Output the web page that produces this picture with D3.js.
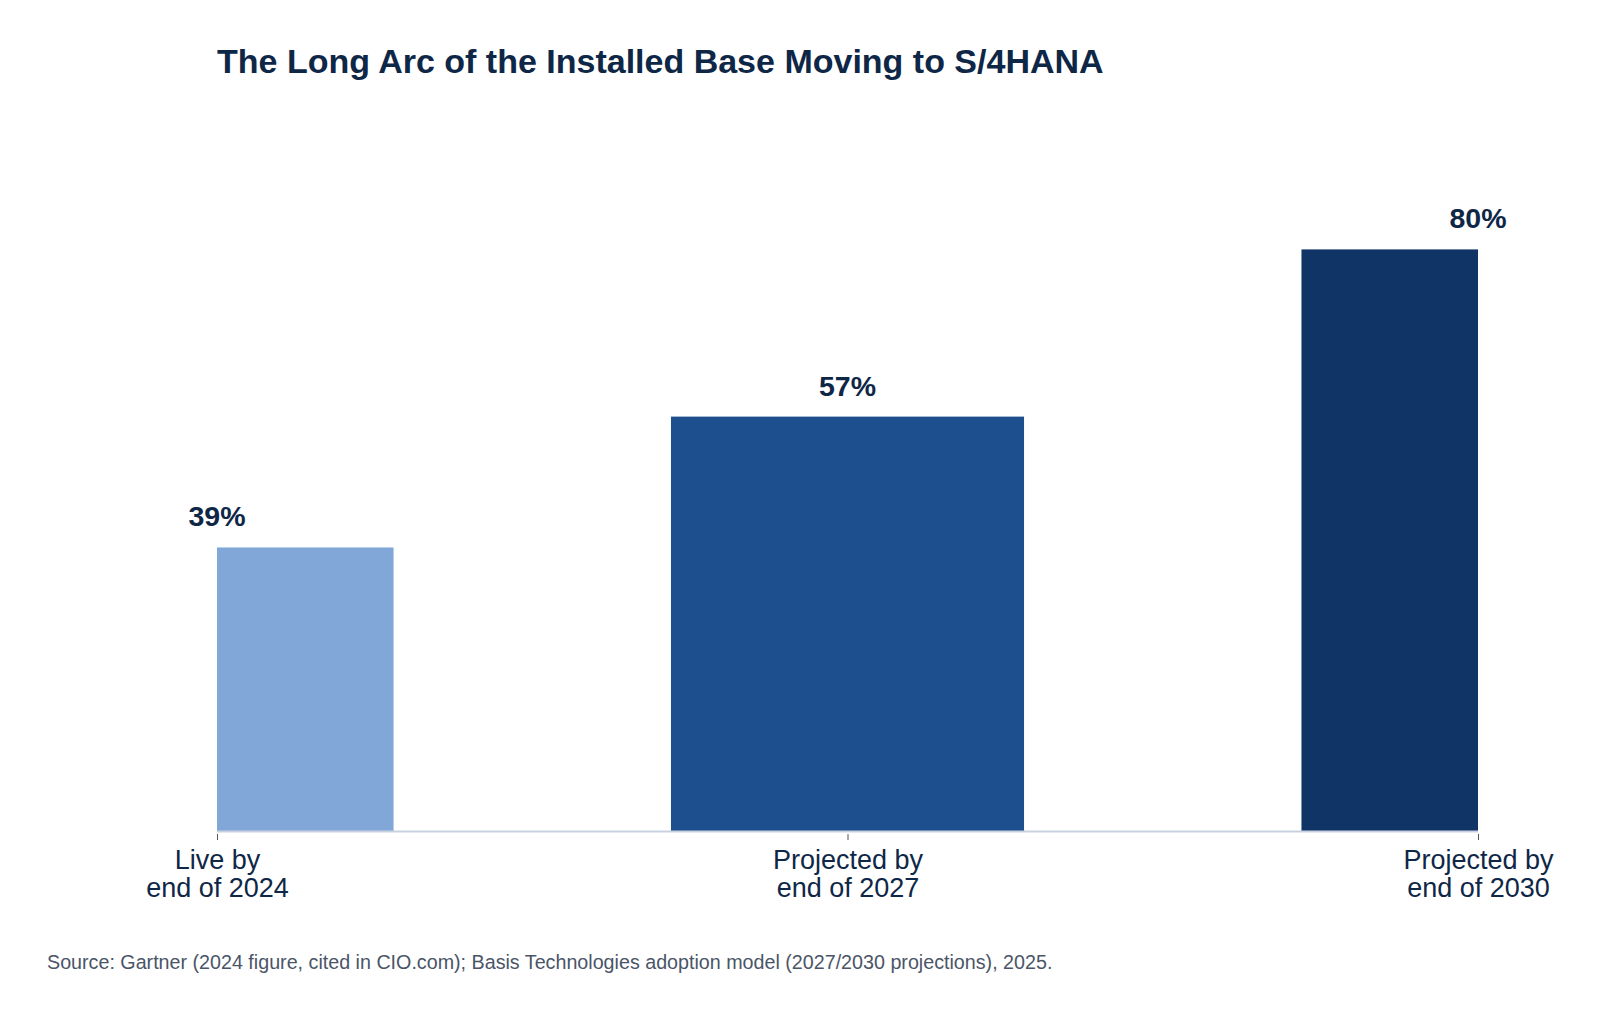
<html>
<head>
<meta charset="UTF-8">
<title>S/4HANA installed base</title>
<style>
  body { margin: 0; background: #ffffff; }
  svg text { font-family: "Liberation Sans", Arial, sans-serif; }
</style>
</head>
<body>
<script src="https://d3js.org/d3.v7.min.js"></script>
<div id="chart"></div>
<script>
// data
const categories = ["Live by|end of 2024", "Projected by|end of 2027", "Projected by|end of 2030"];
const shares = [39, 57, 80];
const barColors = ["#80a7d8", "#1d4f8f", "#113466"];
const titleText = "The Long Arc of the Installed Base Moving to S/4HANA";
const sourceText = "Source: Gartner (2024 figure, cited in CIO.com); Basis Technologies adoption model (2027/2030 projections), 2025.";

const W = 1600, H = 1020;
const margin = {top: 104, right: 122, bottom: 189, left: 217};
const width = W - margin.left - margin.right,
      height = H - margin.top - margin.bottom;

const svg = d3.select("#chart").append("svg")
    .attr("width", W).attr("height", H);

// title
svg.append("text")
    .attr("x", margin.left).attr("y", 73)
    .attr("fill", "#0f2747")
    .attr("font-size", 34).attr("font-weight", "bold")
    .text(titleText);

const g = svg.append("g")
    .attr("transform", "translate(" + margin.left + "," + margin.top + ")");

// clip bars to the plot area (the end bars get cut in half)
svg.append("defs").append("clipPath").attr("id", "plotClip")
  .append("rect").attr("x", 0).attr("y", 0).attr("width", width).attr("height", height);

const x = d3.scalePoint().domain(categories).range([0, width]);
const y = d3.scaleLinear().domain([0, 100]).range([height, 0]);
const barW = x.step() * 0.56;

const rows = categories.map((c, i) => ({cat: c, value: shares[i], color: barColors[i]}));

g.append("g").attr("clip-path", "url(#plotClip)")
  .selectAll("rect")
  .data(rows)
  .join("rect")
    .attr("x", d => x(d.cat) - barW / 2)
    .attr("y", d => y(d.value))
    .attr("width", barW)
    .attr("height", d => height - y(d.value))
    .attr("fill", d => d.color);

// value labels
g.selectAll(".val")
  .data(rows)
  .join("text")
    .attr("class", "val")
    .attr("x", d => x(d.cat))
    .attr("y", d => y(d.value) - 21)
    .attr("text-anchor", "middle")
    .attr("fill", "#0f2747")
    .attr("font-size", 28.5).attr("font-weight", "bold")
    .text(d => d.value + "%");

// x axis
const xAxis = g.append("g")
    .attr("transform", "translate(0," + height + ")")
    .call(d3.axisBottom(x).tickSize(7).tickPadding(8).tickFormat(""));
xAxis.select(".domain").attr("stroke", "#c9d1e0").attr("stroke-width", 2).attr("d", "M0,0.5H" + width);
xAxis.selectAll(".tick line").attr("stroke", "#555").attr("y1", 3).attr("y2", 9);

xAxis.selectAll(".tick").append("text")
    .attr("text-anchor", "middle")
    .attr("fill", "#0f2747")
    .attr("font-size", 27)
    .selectAll("tspan")
    .data(d => d.split("|"))
    .join("tspan")
      .attr("x", 0)
      .attr("y", (d, i) => 38 + i * 28)
      .text(d => d);

// source note
svg.append("text")
    .attr("x", 47).attr("y", 969)
    .attr("fill", "#4a5568")
    .attr("font-size", 19.7)
    .text(sourceText);
</script>
</body>
</html>
